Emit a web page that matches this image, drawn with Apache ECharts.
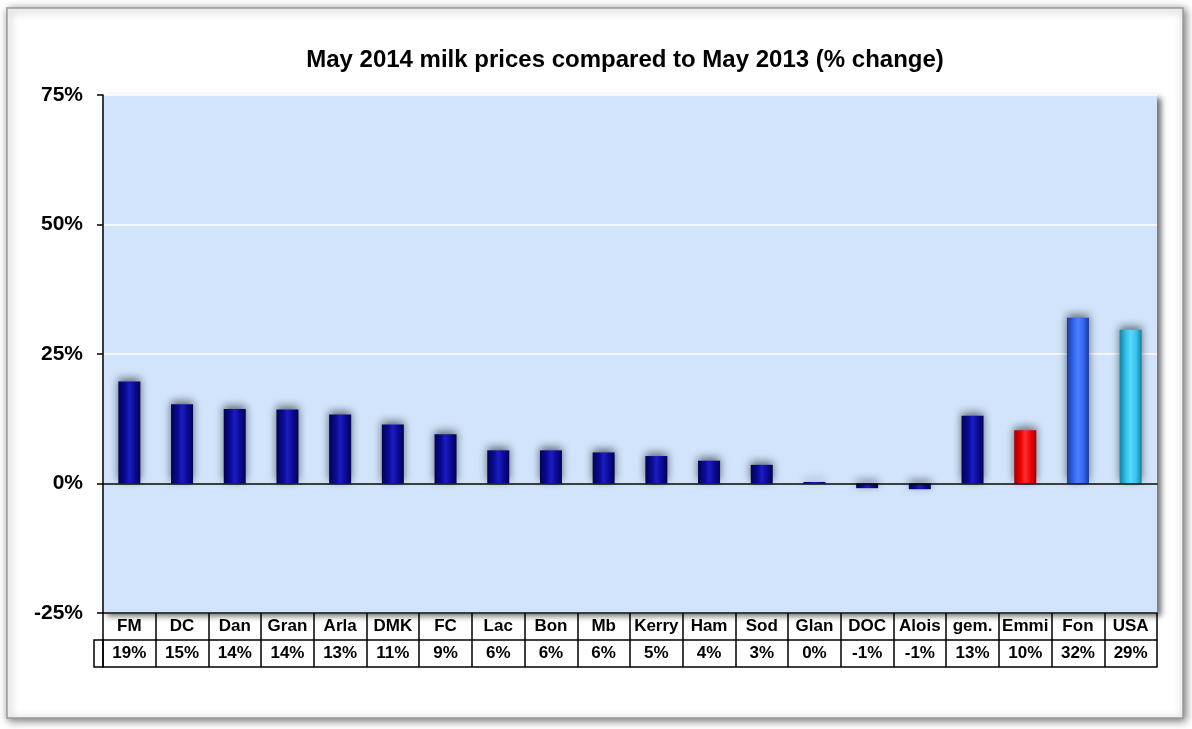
<!DOCTYPE html>
<html>
<head>
<meta charset="utf-8">
<script src="https://cdn.jsdelivr.net/npm/echarts@6/dist/echarts.min.js"></script>
<style>
html,body{margin:0;padding:0;background:#fff;}
#container{width:1192px;height:729px;}
</style>
</head>
<body>
<div id="container"></div>
<script>
// Molkereien / Milchpreise Mai 2014 vs Mai 2013
var categories = ['FM','DC','Dan','Gran','Arla','DMK','FC','Lac','Bon','Mb','Kerry','Ham','Sod','Glan','DOC','Alois','gem.','Emmi','Fon','USA'];
var changes = [19.7, 15.3, 14.4, 14.3, 13.3, 11.4, 9.5, 6.4, 6.4, 6.0, 5.3, 4.4, 3.6, 0.3, -0.9, -1.1, 13.1, 10.3, 32.0, 29.7];
var tableText = ['19%','15%','14%','14%','13%','11%','9%','6%','6%','6%','5%','4%','3%','0%','-1%','-1%','13%','10%','32%','29%'];
var yTicks = [-25, 0, 25, 50, 75];

var FONT = 'Arial, "Liberation Sans", sans-serif';

// Farben der Säulen (Rand dunkel, Mitte hell)
function cyl(dark, mid, light){
	return {
		type: 'linear', x: 0, y: 0, x2: 1, y2: 0,
		colorStops: [
			{offset: 0, color: dark},
			{offset: 0.3, color: mid},
			{offset: 0.5, color: light},
			{offset: 0.75, color: mid},
			{offset: 1, color: dark}
		]
	};
}
var navy = cyl('#03034f', '#0a0a96', '#1c1cc0');
var special = {
	'Emmi': cyl('#a00000', '#f00000', '#ff3030'),
	'Fon': cyl('#1c3c9c', '#3366ee', '#4a80ff'),
	'USA': cyl('#1a7f9c', '#33c4ee', '#5ad8ff')
};

function drawChart(){
	var dom = document.getElementById("container");
	var myChart = echarts.init(dom, null, {renderer: 'canvas'});

	var barData = changes.map(function (v, i) {
		return {
			value: v,
			itemStyle: {color: special[categories[i]] || navy}
		};
	});

	var blackLine = {color: '#000', width: 1.5};

	var option = {
		animation: false,
		backgroundColor: '#fff',
		textStyle: {fontFamily: FONT},
		title: {
			text: 'May 2014 milk prices compared to May 2013 (% change)',
			left: 620,
			top: 43,
			textAlign: 'center',
			textStyle: {fontSize: 24, fontWeight: 'bold', color: '#000', fontFamily: FONT}
		},
		graphic: [{
			type: 'rect',
			z: -10,
			shape: {x: 7, y: 8, width: 1176, height: 710},
			style: {
				fill: '#fff', stroke: '#9a9a9a', lineWidth: 1.5,
				shadowBlur: 8, shadowColor: 'rgba(0,0,0,0.55)', shadowOffsetX: 2, shadowOffsetY: 2
			}
		}, {
			type: 'rect',
			shape: {x: 94, y: 640, width: 9, height: 27},
			style: {fill: 'none', stroke: '#000', lineWidth: 1.5}
		}],
		grid: {
			left: 103,
			top: 95,
			right: 35,
			bottom: 116,
			show: true,
			backgroundColor: '#d1e4fb',
			borderWidth: 0,
			shadowColor: 'rgba(0,0,0,0.6)',
			shadowBlur: 6,
			shadowOffsetX: 4,
			shadowOffsetY: 3
		},
		xAxis: [{
			type: 'category',
			data: categories,
			axisLine: {onZero: true, lineStyle: blackLine},
			axisTick: {show: false},
			axisLabel: {show: false},
			z: 5
		}, {
			type: 'category',
			data: categories,
			position: 'bottom',
			axisLine: {onZero: false, lineStyle: blackLine},
			axisTick: {show: true, interval: 0, length: 54, lineStyle: blackLine},
			axisLabel: {
				interval: 0,
				margin: 0,
				formatter: function (v, i) {
					return '{n|' + v + '}\n{v|' + tableText[i] + '}';
				},
				rich: {
					n: {fontSize: 17, fontWeight: 'bold', color: '#000', lineHeight: 27, fontFamily: FONT},
					v: {fontSize: 17, fontWeight: 'bold', color: '#000', lineHeight: 27, fontFamily: FONT}
				}
			}
		}, {
			type: 'category',
			data: categories,
			position: 'bottom',
			offset: 27,
			axisLine: {onZero: false, lineStyle: blackLine},
			axisTick: {show: false},
			axisLabel: {show: false}
		}, {
			type: 'category',
			data: categories,
			position: 'bottom',
			offset: 54,
			axisLine: {onZero: false, lineStyle: blackLine},
			axisTick: {show: false},
			axisLabel: {show: false}
		}],
		yAxis: {
			type: 'value',
			min: yTicks[0],
			max: yTicks[yTicks.length - 1],
			interval: 25,
			axisLine: {show: true, lineStyle: blackLine},
			axisTick: {show: true, length: 6, lineStyle: blackLine},
			axisLabel: {
				margin: 20,
				formatter: '{value}%',
				fontSize: 21,
				fontWeight: 'bold',
				color: '#000',
				fontFamily: FONT
			},
			splitLine: {show: true, lineStyle: {color: '#ffffff', width: 1.5}}
		},
		series: [{
			type: 'bar',
			xAxisIndex: 0,
			barWidth: 22,
			data: barData,
			itemStyle: {
				shadowColor: 'rgba(0,0,0,0.55)',
				shadowBlur: 9,
				shadowOffsetY: -3
			},
			z: 3
		}]
	};
	myChart.setOption(option, true);
}

window.onload = drawChart;
</script>
</body>
</html>
